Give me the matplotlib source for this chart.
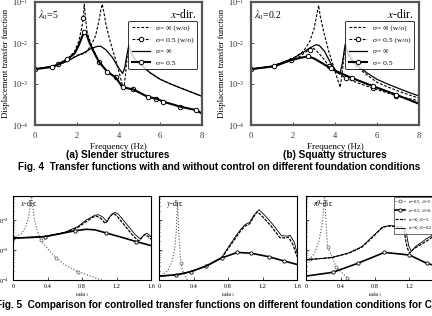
import matplotlib
matplotlib.use("Agg")
import matplotlib.pyplot as plt
import numpy as np

plt.rcParams["font.family"] = ["Liberation Serif", "DejaVu Serif"]
plt.rcParams["mathtext.fontset"] = "stix"

W, H = 432, 316

# ---------------- Fig. 4 data (frequency in Hz, transfer function) ----------------
# (a) slender, lambda0 = 5
a_inf_wo_f = [0, 1.0, 1.5, 2.0, 2.4, 2.7, 2.9, 3.05, 3.15, 3.22, 3.3, 3.4, 3.6, 3.8, 4.0, 4.15, 4.25,
              4.33, 4.42, 4.5, 4.6, 4.8, 5.0, 5.5, 6.0, 6.5, 7.0, 7.5, 8.0]
a_inf_wo_v = [2.3e-3, 2.8e-3, 3.5e-3, 5.0e-3, 5.6e-3, 8.9e-3, 1.5e-2, 3.2e-2, 6.3e-2, 8.9e-2, 5.6e-2,
              2.8e-2, 1.1e-2, 5.0e-3, 2.2e-3, 1.1e-3, 7.1e-4, 1.6e-3, 5.0e-3, 8.9e-3, 5.6e-3, 4.0e-3,
              3.2e-3, 1.9e-3, 1.3e-3, 1.0e-3, 7.9e-4, 6.3e-4, 5.0e-4]
a_inf_f = [0, 1.0, 1.5, 2.0, 2.4, 2.7, 3.0, 3.15, 3.4, 3.7, 4.0, 4.2, 4.3, 4.4, 4.5, 4.6, 4.8, 5.0, 5.5,
           6.0, 6.5, 7.0, 7.5, 8.0]
a_inf_v = [2.3e-3, 2.8e-3, 3.5e-3, 4.8e-3, 6.0e-3, 7.4e-3, 8.3e-3, 8.3e-3, 6.8e-3, 4.5e-3, 2.5e-3,
           1.8e-3, 2.5e-3, 5.0e-3, 8.9e-3, 5.6e-3, 4.0e-3, 3.2e-3, 1.9e-3, 1.3e-3, 1.0e-3, 7.9e-4,
           6.3e-4, 5.0e-4]
a_half_wo_f = [0, 0.8, 1.1, 1.55, 1.9, 2.1, 2.25, 2.31, 2.36, 2.42, 2.5, 2.7, 3.06, 3.46, 3.86, 4.2, 4.7,
               5.39, 5.8, 6.15, 6.96, 7.73, 8.0]
a_half_wo_v = [2.3e-3, 2.6e-3, 3.0e-3, 4.0e-3, 6.3e-3, 1.1e-2, 2.5e-2, 4.0e-2, 8.9e-2, 4.0e-2, 1.8e-2,
               8.9e-3, 3.5e-3, 2.0e-3, 1.45e-3, 8.3e-4, 7.4e-4, 4.9e-4, 4.4e-4, 3.7e-4, 2.8e-4,
               2.3e-4, 1.9e-4]
a_half_f = [0, 0.8, 1.1, 1.55, 1.9, 2.1, 2.25, 2.36, 2.45, 2.6, 2.8, 3.06, 3.46, 3.86, 4.2, 4.7, 5.39,
            5.8, 6.15, 6.96, 7.73, 8.0]
a_half_v = [2.3e-3, 2.6e-3, 3.0e-3, 4.0e-3, 5.6e-3, 8.9e-3, 1.4e-2, 1.9e-2, 1.7e-2, 1.05e-2, 6.3e-3,
            3.5e-3, 2.0e-3, 1.45e-3, 8.3e-4, 7.4e-4, 4.9e-4, 4.4e-4, 3.7e-4, 2.8e-4, 2.3e-4, 1.9e-4]

# (b) squatty, lambda0 = 0.2
b_inf_wo_f = [0, 1.0, 2.0, 2.5, 2.8, 3.0, 3.12, 3.22, 3.3, 3.45, 3.7, 3.95, 4.1, 4.25, 4.35, 4.45, 4.5,
              4.6, 4.8, 5.0, 5.5, 6.0, 6.5, 7.0, 7.5, 8.0]
b_inf_wo_v = [2.3e-3, 2.7e-3, 4.2e-3, 6.3e-3, 1.1e-2, 2.2e-2, 4.5e-2, 8.3e-2, 4.5e-2, 2.0e-2, 6.3e-3,
              2.5e-3, 1.4e-3, 8.3e-4, 2.0e-3, 6.3e-3, 9.5e-3, 5.6e-3, 3.5e-3, 2.7e-3, 1.7e-3,
              1.1e-3, 8.5e-4, 6.8e-4, 5.5e-4, 4.5e-4]
b_inf_f = [0, 1.0, 2.0, 2.5, 2.8, 3.1, 3.25, 3.5, 3.8, 4.1, 4.25, 4.35, 4.45, 4.5, 4.6, 4.8, 5.0, 5.5,
           6.0, 6.5, 7.0, 7.5, 8.0]
b_inf_v = [2.3e-3, 2.7e-3, 4.2e-3, 6.0e-3, 7.6e-3, 9.1e-3, 8.7e-3, 6.3e-3, 3.2e-3, 1.9e-3, 1.9e-3,
           3.2e-3, 7.1e-3, 9.5e-3, 6.0e-3, 4.0e-3, 3.0e-3, 1.9e-3, 1.3e-3, 1.0e-3, 7.9e-4, 6.3e-4,
           5.1e-4]
b_half_wo_f = [0, 1.0, 1.9, 2.3, 2.6, 2.8, 2.95, 3.1, 3.4, 3.7, 4.0, 4.5, 5.0, 5.8, 6.9, 8.0]
b_half_wo_v = [2.3e-3, 2.7e-3, 3.8e-3, 4.6e-3, 6.0e-3, 6.9e-3, 7.6e-3, 6.6e-3, 4.5e-3, 2.8e-3, 2.1e-3,
               1.4e-3, 1.1e-3, 7.9e-4, 5.2e-4, 3.9e-4]
b_half_f = [0, 1.1, 1.9, 2.3, 2.7, 3.0, 3.4, 3.8, 4.2, 4.8, 5.8, 6.9, 8.0]
b_half_v = [2.3e-3, 2.7e-3, 3.8e-3, 4.3e-3, 4.7e-3, 4.2e-3, 3.2e-3, 2.4e-3, 1.9e-3, 1.4e-3, 8.9e-4,
            5.5e-4, 3.3e-4]

# ---------------- Fig. 5 data (omega/omega1, transfer function) ----------------
# x-dir
x_half5_w = [0, 0.1, 0.15, 0.18, 0.2, 0.215, 0.23, 0.25, 0.28, 0.32, 0.4, 0.5, 0.6, 0.75, 0.9, 1.0, 1.05]
x_half5_v = [2.5e-3, 3.5e-3, 6.3e-3, 1.26e-2, 2.8e-2, 7.0e-2, 2.8e-2, 1.0e-2, 4.5e-3, 2.1e-3, 1.1e-3,
             5.6e-4, 3.2e-4, 1.9e-4, 1.35e-4, 1.07e-4, 9.5e-5]
x_half02_w = [0, 0.2, 0.37, 0.55, 0.72, 0.85, 0.95, 1.08, 1.25, 1.43, 1.6]
x_half02_v = [2.5e-3, 2.6e-3, 2.8e-3, 3.5e-3, 4.4e-3, 4.9e-3, 4.7e-3, 3.7e-3, 2.7e-3, 1.9e-3, 1.4e-3]
x_inf5_w = [0, 0.37, 0.6, 0.75, 0.85, 0.93, 0.97, 1.02, 1.07, 1.12, 1.16, 1.2, 1.3, 1.4, 1.46, 1.5,
            1.53, 1.57, 1.6]
x_inf5_v = [2.5e-3, 2.8e-3, 3.8e-3, 5.6e-3, 8.9e-3, 1.26e-2, 1.35e-2, 1.12e-2, 7.6e-3, 1.26e-2,
            1.66e-2, 1.41e-2, 6.3e-3, 2.8e-3, 2.0e-3, 2.8e-3, 3.3e-3, 2.8e-3, 2.3e-3]
x_inf02_w = [0, 0.37, 0.6, 0.75, 0.85, 0.95, 0.99, 1.04, 1.09, 1.14, 1.18, 1.22, 1.32, 1.42, 1.48,
             1.52, 1.55, 1.58, 1.6]
x_inf02_v = [2.5e-3, 2.8e-3, 3.9e-3, 6.0e-3, 1.0e-2, 1.45e-2, 1.5e-2, 1.26e-2, 8.9e-3, 1.5e-2,
             1.8e-2, 1.58e-2, 7.1e-3, 3.2e-3, 2.3e-3, 3.2e-3, 3.6e-3, 3.2e-3, 2.7e-3]

# y-dir
y_half5_w = [0, 0.1, 0.15, 0.18, 0.2, 0.215, 0.23, 0.255, 0.28, 0.33]
y_half5_v = [1.26e-4, 2.0e-4, 4.0e-4, 1.0e-3, 4.0e-3, 4.0e-2, 3.2e-3, 3.6e-4, 1.8e-4, 1.0e-4]
y_half02_w = [0, 0.2, 0.37, 0.55, 0.73, 0.91, 1.07, 1.27, 1.45, 1.6]
y_half02_v = [1.35e-4, 1.48e-4, 1.9e-4, 2.95e-4, 5.5e-4, 8.3e-4, 7.8e-4, 6.0e-4, 4.3e-4, 3.3e-4]
y_inf5_w = [0, 0.2, 0.37, 0.55, 0.73, 0.8, 0.9, 0.95, 1.0, 1.05, 1.1, 1.14, 1.2, 1.3, 1.4, 1.47, 1.5,
            1.55, 1.6]
y_inf5_v = [1.35e-4, 1.48e-4, 1.9e-4, 2.95e-4, 5.5e-4, 1.1e-3, 2.8e-3, 4.5e-3, 6.3e-3, 7.4e-3,
            1.3e-2, 1.9e-2, 1.3e-2, 6.3e-3, 2.6e-3, 2.5e-3, 2.7e-3, 1.6e-3, 6.0e-4]
y_inf02_w = [0, 0.2, 0.37, 0.55, 0.73, 0.8, 0.9, 0.95, 1.0, 1.05, 1.1, 1.16, 1.22, 1.32, 1.42, 1.49,
             1.52, 1.57, 1.6]
y_inf02_v = [1.35e-4, 1.48e-4, 1.9e-4, 2.95e-4, 5.8e-4, 1.2e-3, 3.2e-3, 5.0e-3, 7.1e-3, 8.3e-3,
             1.45e-2, 2.2e-2, 1.5e-2, 7.1e-3, 3.0e-3, 2.9e-3, 3.1e-3, 1.8e-3, 8.0e-4]

# r-theta-dir
r_half5_w = [0, 0.05, 0.1, 0.15, 0.19, 0.215, 0.235, 0.25, 0.35, 0.48, 0.52]
r_half5_v = [4.7e-4, 5.2e-4, 8.0e-4, 2.0e-3, 7.9e-3, 7.0e-2, 6.3e-3, 1.3e-3, 2.75e-4, 1.15e-4, 9.5e-5]
r_half02_w = [0, 0.31, 0.6, 0.91, 1.2, 1.4, 1.6]
r_half02_v = [1.35e-4, 1.8e-4, 3.6e-4, 8.3e-4, 6.8e-4, 3.6e-4, 2.5e-4]
r_inf5_w = [0, 0.3, 0.5, 0.65, 0.78, 0.88, 0.95, 1.05, 1.1, 1.14, 1.17, 1.2, 1.25, 1.4, 1.5, 1.6]
r_inf5_v = [4.7e-4, 5.6e-4, 7.9e-4, 1.26e-3, 2.8e-3, 5.6e-3, 6.3e-3, 6.0e-3, 5.6e-3, 4.0e-3, 1.26e-3,
            7.9e-4, 1.1e-3, 2.0e-3, 3.2e-3, 5.0e-3]
r_inf02_w = [0, 0.3, 0.5, 0.65, 0.78, 0.9, 0.97, 1.07, 1.12, 1.16, 1.19, 1.22, 1.27, 1.4, 1.5, 1.6]
r_inf02_v = [4.7e-4, 5.6e-4, 8.1e-4, 1.3e-3, 3.0e-3, 6.0e-3, 6.5e-3, 6.2e-3, 5.8e-3, 4.2e-3,
             1.4e-3, 8.9e-4, 1.3e-3, 2.4e-3, 3.6e-3, 5.6e-3]

fig4_labels = ["σ= ∞ (w/o)", "σ= 0.5 (w/o)", "σ= ∞", "σ= 0.5"]
fig5_labels = ["σ=0.5, $\\lambda_0$=5", "σ=0.5, $\\lambda_0$=0.2", "σ=∞, $\\lambda_0$=5",
               "σ=∞, $\\lambda_0$=0.2"]


def px_axes(fig, x0, y0, x1, y1):
    return fig.add_axes([x0 / W, 1 - y1 / H, (x1 - x0) / W, (y1 - y0) / H])


fig = plt.figure(figsize=(W / 100, H / 100), dpi=100)

# ---------------- Fig. 4 panels ----------------
top_panels = [
    (35, 202, "$\\lambda_0$=5", (a_inf_wo_f, a_inf_wo_v), (a_half_wo_f, a_half_wo_v),
     (a_inf_f, a_inf_v), (a_half_f, a_half_v), [0, 2, 7, 12, 14, 16, 18, 20], [1, 3, 7, 12, 14, 16, 18, 20]),
    (251, 419, "$\\lambda_0$=0.2", (b_inf_wo_f, b_inf_wo_v), (b_half_wo_f, b_half_wo_v),
     (b_inf_f, b_inf_v), (b_half_f, b_half_v), [0, 2, 5, 9, 11, 13, 14], [1, 4, 7, 9, 10, 11]),
]
for x0, x1, lam, inf_wo, half_wo, inf_c, half_c, mk_wo, mk_c in top_panels:
    ax = px_axes(fig, x0, 2, x1, 125)
    ax.set_yscale("log")
    ax.set_xlim(0, 8)
    ax.set_ylim(1e-4, 1e-1)
    ax.plot(*inf_wo, ls=(0, (2.5, 1.5)), color="black", lw=0.8, label=fig4_labels[0])
    ax.plot(*half_wo, ls=(0, (2.5, 1.5)), color="black", lw=0.8, marker="o", ms=3.2, mfc="white",
            mew=0.7, markevery=mk_wo, label=fig4_labels[1])
    ax.plot(*inf_c, color="black", lw=0.9, label=fig4_labels[2])
    ax.plot(*half_c, color="black", lw=1.5, marker="o", ms=3.2, mfc="white", mew=0.7,
            markevery=mk_c, label=fig4_labels[3])
    ax.set_xticks([0, 2, 4, 6, 8])
    ax.set_yticks([1e-4, 1e-3, 1e-2, 1e-1])
    ax.yaxis.set_minor_locator(matplotlib.ticker.NullLocator())
    ax.tick_params(direction="in", length=2.5, width=0.6, labelsize=6, pad=5, colors="#333333")
    for s in ax.spines.values():
        s.set_linewidth(1.6)
        s.set_color("#555555")
    ax.set_xlabel("Frequency (Hz)", fontsize=6.5, labelpad=2)
    ax.set_ylabel("Displacement transfer function", fontsize=6.3, labelpad=1)
    ax.text(0.02, 0.95, lam, transform=ax.transAxes, fontsize=7, va="top")
    ax.text(0.97, 0.95, "$x$-dir.", transform=ax.transAxes, fontsize=8.5, va="top", ha="right")
    leg = ax.legend(loc="upper right", bbox_to_anchor=(0.995, 0.88), fontsize=5.4, frameon=True,
                    fancybox=True, edgecolor="black", handlelength=2.4, borderpad=0.5,
                    labelspacing=0.7, handletextpad=0.8)
    leg.get_frame().set_linewidth(0.7)

fig.text(118 / W, 1 - 155 / H, "(a) Slender structures", family="Liberation Sans", weight="bold",
         fontsize=7.2, ha="center", va="center")
fig.text(335 / W, 1 - 155 / H, "(b) Squatty structures", family="Liberation Sans", weight="bold",
         fontsize=7.2, ha="center", va="center")
fig.text(219 / W, 1 - 167 / H,
         "Fig. 4  Transfer functions with and without control on different foundation conditions",
         family="Liberation Sans", weight="bold", fontsize=7.2, ha="center", va="center")

# ---------------- Fig. 5 panels ----------------
bottom_panels = [
    (13, 151, "$x$-dir.", (x_half5_w, x_half5_v), (x_half02_w, x_half02_v), (x_inf5_w, x_inf5_v),
     (x_inf02_w, x_inf02_v), [9, 11, 13], [0, 2, 4, 7, 9]),
    (159, 297, "$y$-dir.", (y_half5_w, y_half5_v), (y_half02_w, y_half02_v), (y_inf5_w, y_inf5_v),
     (y_inf02_w, y_inf02_v), [7], [1, 2, 3, 4, 5, 6, 7, 8]),
    (306, 444, "$r\\theta$-dir.", (r_half5_w, r_half5_v), (r_half02_w, r_half02_v), (r_inf5_w, r_inf5_v),
     (r_inf02_w, r_inf02_v), [1, 7, 8, 9], [1, 2, 3, 4, 5]),
]
for i, (x0, x1, title, h5, h02, i5, i02, mk5, mk02) in enumerate(bottom_panels):
    ax = px_axes(fig, x0, 196, x1, 280)
    ax.set_yscale("log")
    ax.set_xlim(0, 1.6)
    ax.set_ylim(1e-4, 10 ** (-1.2))
    ax.plot(*h5, ls=":", color="#555555", lw=0.8, marker="o", ms=2.2, mfc="white", mew=0.5,
            markevery=mk5, label=fig5_labels[0])
    ax.plot(*h02, color="black", lw=1.2, marker="o", ms=2.4, mfc="white", mew=0.6,
            markevery=mk02, label=fig5_labels[1])
    ax.plot(*i5, ls=(0, (2.5, 1)), color="black", lw=0.9, label=fig5_labels[2])
    ax.plot(*i02, color="black", lw=0.6, label=fig5_labels[3])
    ax.set_xticks([0, 0.4, 0.8, 1.2, 1.6])
    ax.set_xticklabels(["0", "0.4", "0.8", "1.2", "1.6"])
    ax.set_yticks([1e-4, 1e-3, 1e-2])
    ax.tick_params(which="both", direction="in", length=2, width=0.5, labelsize=4.5, pad=3)
    ax.tick_params(which="minor", length=1)
    if i > 0:
        ax.set_yticklabels([])
    for s in ax.spines.values():
        s.set_linewidth(0.8)
    ax.set_xlabel("ω/ω$_1$", fontsize=4.5, labelpad=1)
    ax.text(0.05, 0.98, title, transform=ax.transAxes, fontsize=5.5, va="top")
    if i == 2:
        leg = ax.legend(loc="upper left", bbox_to_anchor=(0.62, 1.01), fontsize=3.3, frameon=True,
                        fancybox=False, edgecolor="black", handlelength=2.2, borderpad=0.3,
                        labelspacing=0.35, handletextpad=0.5)
        leg.get_frame().set_linewidth(0.5)

fig.text(-4 / W, 1 - 305 / H,
         "Fig. 5  Comparison for controlled transfer functions on different foundation conditions for Case 1",
         family="Liberation Sans", weight="bold", fontsize=7.2, ha="left", va="center")

fig.savefig("out.png", dpi=100)
